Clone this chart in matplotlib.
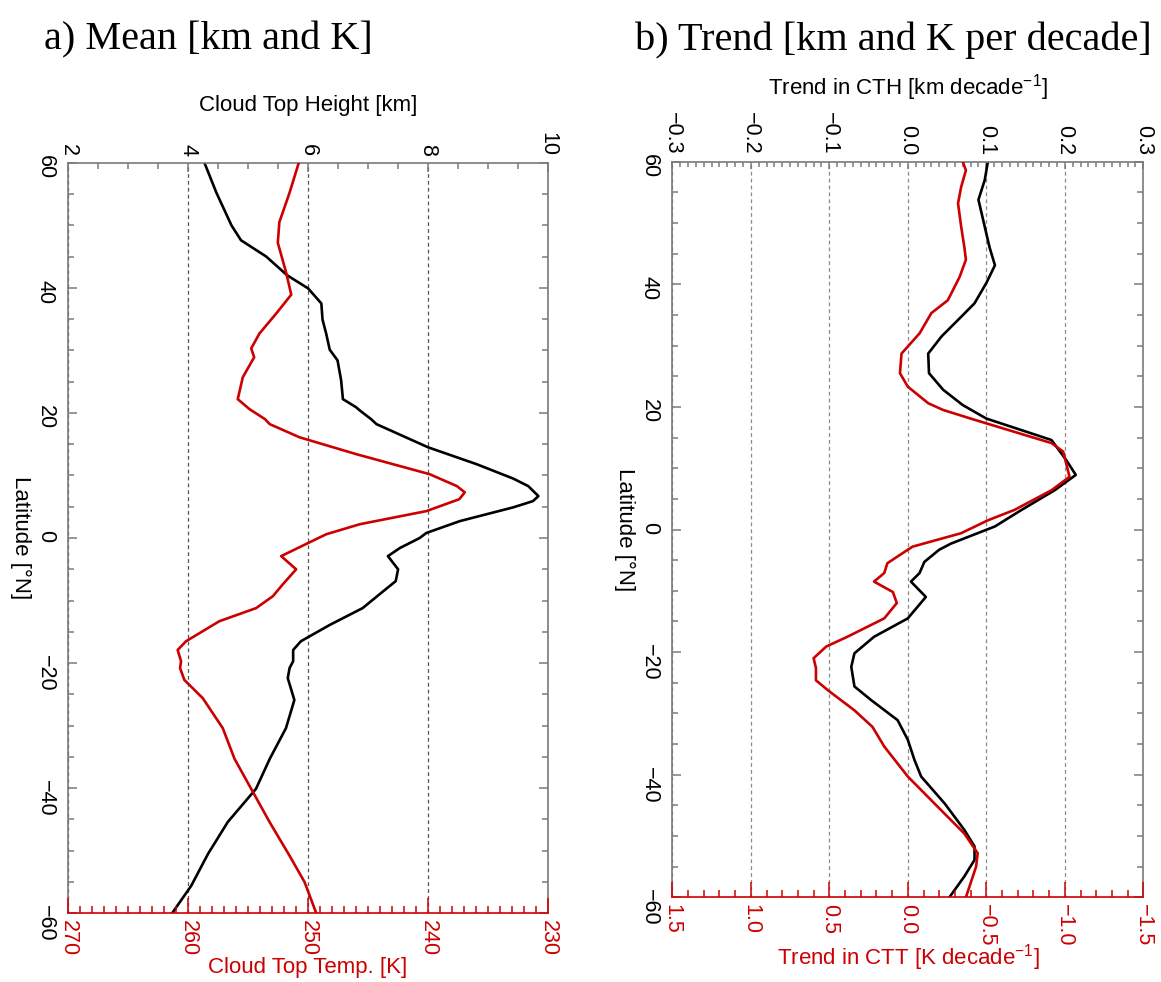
import numpy as np
import matplotlib.pyplot as plt
from matplotlib.ticker import MultipleLocator

plt.rcParams['font.family'] = ['Liberation Sans', 'DejaVu Sans']
plt.rcParams['mathtext.fontset'] = 'custom'
plt.rcParams['mathtext.rm'] = 'Liberation Sans'
plt.rcParams['mathtext.it'] = 'Liberation Sans:italic'
plt.rcParams['font.size'] = 15.5

RED = '#cc0000'
GREY = '#7a7a7a'

# a) mean cloud top height [km] vs latitude
lat_cth = [60, 55.2, 50, 47.6, 45, 42, 39.9, 37.5, 34.9, 32.7,
           30.1, 28.4, 25.2, 22.2, 20.9, 20.4, 19.0, 18.2, 14.5, 11.8,
           9.5, 8.3, 6.7, 5.9, 4.9, 2.7, 0.8, 0, -1.6, -2.9, -5.0, -6.9,
           -9.0, -11.2, -13.9, -16.5, -17.9, -19.7, -20.8, -22.4, -25.9, -30.4,
           -35.3, -40.1, -45.4, -50.5, -55.6, -60]
cth = [4.27, 4.47, 4.72, 4.88, 5.30, 5.65, 6.0, 6.22, 6.24, 6.30,
       6.36, 6.49, 6.55, 6.58, 6.80, 6.86, 7.05, 7.14, 8.0, 8.81,
       9.42, 9.67, 9.84, 9.75, 9.42, 8.53, 7.97, 7.86, 7.53, 7.33, 7.50, 7.46,
       7.19, 6.91, 6.36, 5.88, 5.75, 5.75, 5.69, 5.66, 5.77, 5.63,
       5.36, 5.13, 4.66, 4.33, 4.05, 3.73]

# a) mean cloud top temperature [K]
lat_ctt = [60, 55.2, 50.5, 47.2, 42.4, 38.9, 35.9, 32.7, 30.3, 28.9,
           25.7, 22.2, 20.6, 19.0, 18.2, 16.1, 13.4, 10.2, 8.3, 7.3, 6.2, 4.3,
           2.2, 0.6, -1.6, -2.9, -5.0, -7.4, -9.3, -11.2, -13.3, -16.5,
           -17.9, -19.7, -20.8, -22.7, -25.6, -30.4, -35.3, -40.1, -45.4, -50.8,
           -55.0, -60]
ctt = [250.78, 251.55, 252.4, 252.53, 251.83, 251.41, 252.66, 254.06, 254.75, 254.5,
       255.45, 255.87, 254.89, 253.6, 253.2, 250.72, 245.98, 239.87, 237.6, 236.94, 237.4, 240.14,
       245.7, 248.49, 250.86, 252.25, 251.0, 252.11, 252.94, 254.33, 257.4, 260.18,
       260.88, 260.6, 260.68, 260.32, 258.79, 257.12, 256.14, 254.75, 253.22, 251.55,
       250.3, 249.32]

# b) trend in CTH [km/decade]
lat_dcth = [60, 57.0, 53.8, 50.5, 46.1, 43.1, 40.2, 36.9, 34.7, 31.5,
            28.7, 25.5, 22.8, 20.3, 18.1, 17.3, 14.6, 11.3, 8.9, 6.4,
            3.2, 0.5, -2.3, -3.3, -5.3, -7.1, -8.5, -11.0, -14.5, -17.5,
            -20.2, -22.4, -25.6, -27.8, -31.1, -34.3, -37.6, -40.3, -44.7, -49.0,
            -51.7, -53.9, -56.6, -60]
dcth = [0.102, 0.098, 0.090, 0.096, 0.104, 0.111, 0.100, 0.085, 0.068, 0.043,
        0.026, 0.027, 0.045, 0.070, 0.100, 0.119, 0.183, 0.202, 0.214, 0.187,
        0.145, 0.111, 0.055, 0.040, 0.021, 0.015, 0.004, 0.023, 0.0, -0.043,
        -0.068, -0.072, -0.068, -0.047, -0.013, 0.0, 0.0085, 0.017, 0.047, 0.072,
        0.085, 0.085, 0.072, 0.053]

# b) trend in CTT [K/decade]
lat_dctt = [60, 58.6, 55.9, 53.2, 49.4, 46.1, 44.0, 41.2, 37.4, 35.3,
            32.0, 28.7, 25.5, 23.3, 20.6, 19.5, 17.9, 14.1, 12.7, 8.6,
            6.4, 3.2, 1.5, -0.6, -2.8, -4.4, -5.5, -7.1, -8.5, -10.2,
            -12.0, -14.5, -17.5, -19.1, -21.0, -22.6, -24.6, -26.2, -29.5, -32.2,
            -35.4, -40.3, -44.7, -49.6, -52.8, -55.0, -60]
dctt = [-0.35, -0.37, -0.34, -0.32, -0.34, -0.36, -0.37, -0.33, -0.255, -0.15,
        -0.075, 0.04, 0.05, 0.0, -0.13, -0.225, -0.425, -0.915, -0.99, -1.03,
        -0.915, -0.68, -0.51, -0.34, -0.03, 0.065, 0.13, 0.15, 0.215, 0.095,
        0.07, 0.15, 0.385, 0.52, 0.60, 0.585, 0.585, 0.51, 0.34, 0.225,
        0.15, 0.0, -0.17, -0.36, -0.445, -0.435, -0.37]

W, H = 1161, 982
fig = plt.figure(figsize=(W / 100, H / 100), dpi=100)


def box(l, t, r, b):
    return [l / W, 1 - b / H, (r - l) / W, (b - t) / H]


def panel(rect, xt, yt, xb, yb, top_lim, top_maj, top_min, bot_lim, bot_maj, bot_min,
          top_len, grid_col):
    ax = fig.add_axes(rect)
    ax.plot(xt, yt, color='k', lw=1.9)
    ax.set_xlim(*top_lim)
    ax.set_ylim(-60, 60)

    # red temperature axis underneath, sharing latitude
    ax2 = ax.twiny()
    ax2.plot(xb, yb, color=RED, lw=1.9)
    ax2.set_xlim(*bot_lim)
    ax2.xaxis.tick_bottom()
    ax2.xaxis.set_major_locator(MultipleLocator(bot_maj))
    ax2.xaxis.set_minor_locator(MultipleLocator(bot_min))
    ax2.tick_params(axis='x', which='both', direction='in', colors=RED, width=1.1,
                    labelrotation=-90)
    ax2.tick_params(axis='x', which='major', length=11, pad=5)
    ax2.tick_params(axis='x', which='minor', length=5)
    for s in ['top', 'left', 'right']:
        ax2.spines[s].set_visible(False)
    ax2.spines['bottom'].set_color(RED)
    ax2.spines['bottom'].set_linewidth(1.2)

    # twiny moved the first x axis to the bottom, put it back on top
    ax.xaxis.tick_top()
    ax.xaxis.set_major_locator(MultipleLocator(top_maj))
    ax.xaxis.set_minor_locator(MultipleLocator(top_min))
    ax.yaxis.set_major_locator(MultipleLocator(20))
    ax.yaxis.set_minor_locator(MultipleLocator(5))
    ax.tick_params(which='both', direction='in', colors=GREY, labelcolor='k',
                   left=True, right=True, width=1.1)
    ax.tick_params(axis='x', which='major', length=top_len[0], pad=5, labelrotation=-90)
    ax.tick_params(axis='x', which='minor', length=top_len[1])
    ax.tick_params(axis='y', which='major', length=6.5, pad=9, labelrotation=-90)
    ax.tick_params(axis='y', which='minor', length=4)
    ax.grid(axis='x', which='major', ls=(0, (3, 2.5)), color=grid_col, lw=0.9)
    for s in ['top', 'left', 'right']:
        ax.spines[s].set_color(GREY)
        ax.spines[s].set_linewidth(1.2)
    ax.spines['bottom'].set_visible(False)
    return ax, ax2


panel(box(68.3, 162.7, 548, 913.3), cth, lat_cth, ctt, lat_ctt,
      (2, 10), 2, 0.5, (270, 230), 10, 1, (6.5, 4.5), '#555555')
panel(box(672.3, 161.7, 1143.3, 897.3), dcth, lat_dcth, dctt, lat_dctt,
      (-0.3, 0.3), 0.1, 0.01, (1.5, -1.5), 0.5, 0.1, (5, 3.5), '#8a8a8a')


def ftext(x, y, s, **kw):
    fig.text(x / W, 1 - y / H, s, ha='center', va='center', **kw)


ftext(208, 40, 'a) Mean [km and K]', family='Liberation Serif', fontsize=29)
ftext(893, 40, 'b) Trend [km and K per decade]', family='Liberation Serif', fontsize=29)
ftext(308, 105, 'Cloud Top Height [km]', fontsize=16)
ftext(908, 88, r'Trend in CTH [km decade$^{-1}$]', fontsize=16)
ftext(308, 968, 'Cloud Top Temp. [K]', fontsize=16, color=RED)
ftext(908, 958, r'Trend in CTT [K decade$^{-1}$]', fontsize=16, color=RED)
ftext(21, 538, 'Latitude [°N]', fontsize=16, rotation=-90)
ftext(625, 529.5, 'Latitude [°N]', fontsize=16, rotation=-90)

fig.savefig('out.png', dpi=100)
